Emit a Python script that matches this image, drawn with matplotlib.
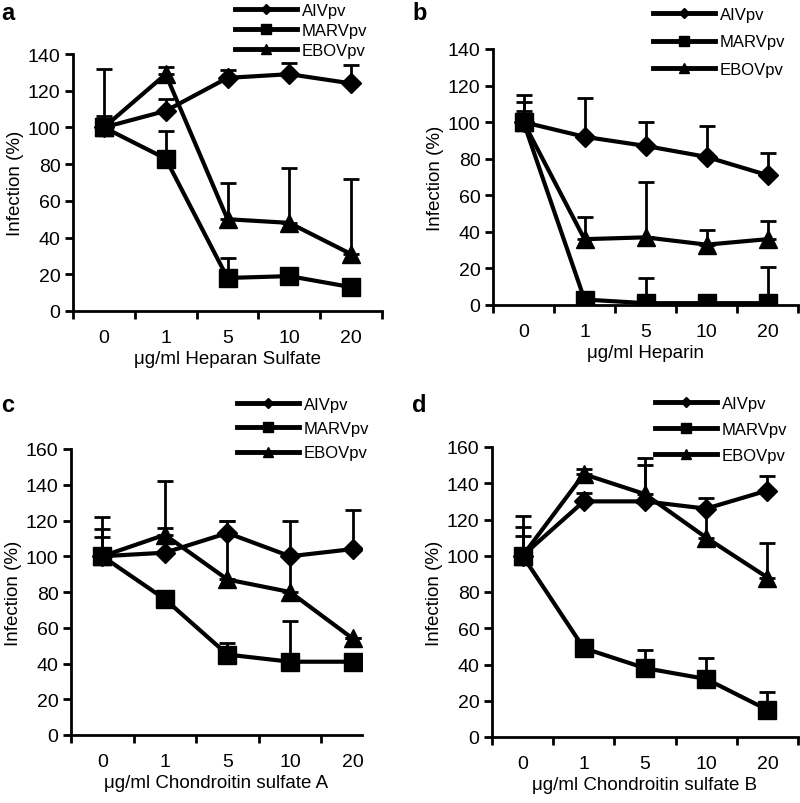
import matplotlib.pyplot as plt

plt.rcParams['font.family'] = ['Liberation Sans', 'DejaVu Sans']

doses = ['0', '1', '5', '10', '20']

# a: heparan sulfate
hs_aiv = [100, 109, 127, 129, 124]
hs_aiv_err = [6, 6.5, 4.5, 6, 10]
hs_marv = [100, 83, 18, 19, 13]
hs_marv_err = [32, 15, 11, 0, 0]
hs_ebov = [100, 129, 50, 48, 31]
hs_ebov_err = [4, 4, 20, 30, 41]

# b: heparin
hep_aiv = [100, 92, 87, 81, 71]
hep_aiv_err = [15, 21, 13, 17, 12]
hep_marv = [100, 3, 1, 1, 1]
hep_marv_err = [11, 0, 14, 0, 20]
hep_ebov = [100, 36, 37, 33, 36]
hep_ebov_err = [6, 12, 30, 8, 10]

# c: chondroitin sulfate A
csa_aiv = [100, 102, 113, 100, 104]
csa_aiv_err = [22, 14, 7, 20, 22]
csa_marv = [100, 76, 45, 41, 41]
csa_marv_err = [11, 0, 6.5, 23, 0]
csa_ebov = [100, 112, 87, 80, 54]
csa_ebov_err = [15, 30, 33, 20, 0]

# d: chondroitin sulfate B
csb_aiv = [100, 130, 130, 126, 136]
csb_aiv_err = [11, 4.5, 20, 6, 8]
csb_marv = [100, 49, 38, 32, 15]
csb_marv_err = [16, 0, 10, 11.5, 10]
csb_ebov = [100, 145, 134, 110, 88]
csb_ebov_err = [22, 3, 20, 15, 19]

W, H = 800, 804
fig = plt.figure(figsize=(W / 100, H / 100), dpi=100)


def px_axes(left, right, bottom, top):
    return fig.add_axes([left / W, 1 - bottom / H, (right - left) / W, (bottom - top) / H])


def draw_panel(ax, aiv, aiv_err, marv, marv_err, ebov, ebov_err, ymax, xlabel, xmax, leg_xy, leg_space):
    x = list(range(len(doses)))
    series = [
        (aiv, aiv_err, 'D', 10, 'AIVpv'),
        (marv, marv_err, 's', 13, 'MARVpv'),
        (ebov, ebov_err, '^', 13, 'EBOVpv'),
    ]
    handles = []
    for vals, errs, mk, ms, lab in series:
        ax.errorbar(x, vals, yerr=[[0] * len(errs), errs], fmt='none', ecolor='black',
                    elinewidth=2, capsize=6, capthick=2, zorder=2)
        ln, = ax.plot(x, vals, color='black', lw=3, marker=mk, markersize=ms,
                      markerfacecolor='black', markeredgecolor='black', zorder=3, label=lab)
        handles.append(ln)

    ax.set_xlim(-0.5, xmax)
    ax.set_ylim(0, ymax)
    ax.set_yticks(range(0, ymax + 1, 20))
    ax.set_xticks(x)
    ax.set_xticklabels(doses)
    ax.set_xticks([i - 0.5 for i in range(len(doses) + 1) if i - 0.5 <= xmax], minor=True)
    ax.tick_params(axis='x', which='major', length=0, pad=13, labelsize=14)
    ax.tick_params(axis='x', which='minor', length=6, width=2, direction='out')
    ax.tick_params(axis='y', length=6, width=2, direction='out', labelsize=14, pad=3)
    for s in ['top', 'right']:
        ax.spines[s].set_visible(False)
    for s in ['left', 'bottom']:
        ax.spines[s].set_linewidth(2)
    ax.set_xlabel(xlabel, fontsize=13.5, labelpad=3)
    ax.set_ylabel('Infection (%)', fontsize=13.5, labelpad=3)

    leg = ax.legend(handles=handles, loc='upper left',
                    bbox_to_anchor=(leg_xy[0] / W, 1 - leg_xy[1] / H),
                    bbox_transform=fig.transFigure, frameon=False, fontsize=12,
                    handlelength=3.7, handletextpad=0.3, labelspacing=leg_space,
                    borderpad=0, borderaxespad=0, numpoints=1, markerscale=0.55)
    for h in leg.legend_handles:
        h.set_linewidth(3.5)


ax_a = px_axes(73, 382, 312, 55)
draw_panel(ax_a, hs_aiv, hs_aiv_err, hs_marv, hs_marv_err, hs_ebov, hs_ebov_err,
           140, 'μg/ml Heparan Sulfate', 4.5, (235, 4), 0.3)

ax_b = px_axes(493, 798, 306, 50)
draw_panel(ax_b, hep_aiv, hep_aiv_err, hep_marv, hep_marv_err, hep_ebov, hep_ebov_err,
           140, 'μg/ml Heparin', 4.5, (653, 8), 0.75)

ax_c = px_axes(71, 362, 736, 450)
draw_panel(ax_c, csa_aiv, csa_aiv_err, csa_marv, csa_marv_err, csa_ebov, csa_ebov_err,
           160, 'μg/ml Chondroitin sulfate A', 4.15, (237, 398), 0.55)

ax_d = px_axes(492, 798, 738, 448)
draw_panel(ax_d, csb_aiv, csb_aiv_err, csb_marv, csb_marv_err, csb_ebov, csb_ebov_err,
           160, 'μg/ml Chondroitin sulfate B', 4.5, (655, 397), 0.65)

for lab, xy in [('a', (1, 2)), ('b', (412, 2)), ('c', (1, 394)), ('d', (412, 394))]:
    fig.text(xy[0] / W, 1 - xy[1] / H, lab, fontsize=17, fontweight='bold', va='top', ha='left')

fig.savefig('out.png', dpi=100)
